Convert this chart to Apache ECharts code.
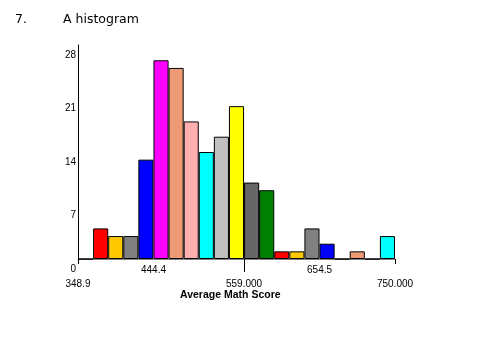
<!DOCTYPE html>
<html>
<head>
<meta charset="utf-8">
<title>A histogram</title>
<script src="https://cdn.jsdelivr.net/npm/echarts@6/dist/echarts.min.js"></script>
<style>
  html, body { margin: 0; padding: 0; background: #ffffff; }
  #chart { width: 483px; height: 337px; }
</style>
</head>
<body>
<div id="chart"></div>
<script>
// Lower edges of the 21 score bins (bin width 19.1)
const binStarts = ['348.9', '368.0', '387.1', '406.2', '425.3', '444.4', '463.5',
  '482.6', '501.7', '520.8', '539.9', '559.0', '578.1', '597.2', '616.3',
  '635.4', '654.5', '673.6', '692.7', '711.8', '730.9'];

// Number of schools in each bin
const binCounts = [0, 4, 3, 3, 13, 26, 25, 18, 14, 16, 20, 10, 9, 1, 1, 4, 2, 0, 1, 0, 3];

// Score axis labels (two staggered rows)
const upperTickValues = [444.4, 654.5];
const upperTickLabels = ['444.4', '654.5'];
const lowerTickValues = [348.9, 559, 750];
const lowerTickLabels = ['348.9', '559.000', '750.000'];

// Fill colours, cycling from the first non-empty bin
const palette = ['#FF0000', '#FFC800', '#808080', '#0000FF', '#FF00FF', '#EE9A75',
  '#FFAFAF', '#00FFFF', '#C0C0C0', '#FFFF00', '#666666', '#008000'];

const scoreMin = 348.9;
const scoreMax = 750;

function labelFor(values, labels) {
  return function (v) {
    for (let i = 0; i < values.length; i++) {
      if (Math.abs(values[i] - v) < 1e-6) return labels[i];
    }
    return '';
  };
}

const tickFont = { fontFamily: 'Liberation Sans', fontSize: 10, color: '#000000' };

const chart = echarts.init(document.getElementById('chart'), null, { renderer: 'canvas' });

chart.setOption({
  animation: false,
  backgroundColor: '#ffffff',
  title: [
    { text: '7.', left: 15, top: 13, padding: 0,
      textStyle: { fontFamily: 'DejaVu Sans', fontSize: 12.5, fontWeight: 'normal', color: '#000000' } },
    { text: 'A histogram', left: 63, top: 13, padding: 0,
      textStyle: { fontFamily: 'DejaVu Sans', fontSize: 12.5, fontWeight: 'normal', color: '#000000' } },
    { text: 'Average Math Score', left: 180, top: 290, padding: 0,
      textStyle: { fontFamily: 'Liberation Sans', fontSize: 10.5, fontWeight: 'bold', color: '#000000' } }
  ],
  grid: { left: 78, right: 88, top: 45, bottom: 78, containLabel: false },
  xAxis: [
    {
      type: 'category',
      data: binStarts,
      position: 'bottom',
      axisLine: { show: true, lineStyle: { color: '#808080', width: 1 } },
      axisTick: { show: false },
      axisLabel: { show: false },
      splitLine: { show: false }
    },
    {
      type: 'value',
      min: scoreMin,
      max: scoreMax,
      position: 'bottom',
      axisLine: { show: false },
      splitLine: { show: false },
      axisTick: { show: true, customValues: [559], length: 13, lineStyle: { color: '#000000' } },
      axisLabel: Object.assign({
        customValues: upperTickValues,
        margin: 6,
        formatter: labelFor(upperTickValues, upperTickLabels)
      }, tickFont)
    },
    {
      type: 'value',
      min: scoreMin,
      max: scoreMax,
      position: 'bottom',
      axisLine: { show: false },
      splitLine: { show: false },
      axisTick: { show: true, customValues: [348.9, 750], length: 5, lineStyle: { color: '#000000' } },
      axisLabel: Object.assign({
        customValues: lowerTickValues,
        margin: 20,
        formatter: labelFor(lowerTickValues, lowerTickLabels)
      }, tickFont)
    }
  ],
  yAxis: {
    type: 'value',
    min: 0,
    max: 28,
    interval: 7,
    axisLine: { show: true, lineStyle: { color: '#000000', width: 1 } },
    axisTick: { show: false },
    splitLine: { show: false },
    axisLabel: Object.assign({
      margin: 2,
      verticalAlign: 'top',
      padding: [5, 0, 0, 0]
    }, tickFont)
  },
  series: [{
    type: 'bar',
    xAxisIndex: 0,
    data: binCounts,
    barCategoryGap: '0%',
    itemStyle: {
      color: function (p) {
        return palette[(p.dataIndex + palette.length - 1) % palette.length];
      },
      borderColor: '#000000',
      borderWidth: 1
    }
  }]
});
</script>
</body>
</html>
